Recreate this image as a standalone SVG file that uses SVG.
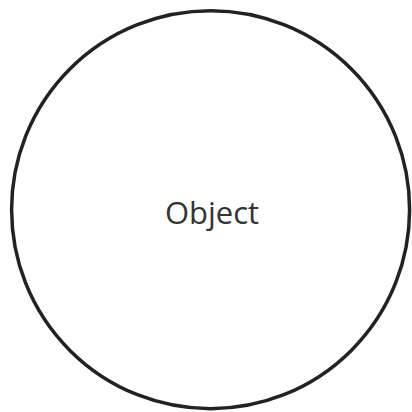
<svg xmlns="http://www.w3.org/2000/svg" width="412" height="412" viewBox="0 0 412 412">
<style>
.node-shape{fill:#ffffff;stroke:#222222;stroke-width:3.5}
.label{font-family:"Open Sans","Noto Sans",sans-serif;font-size:31px;fill:#333333;text-anchor:middle}
</style>
<rect width="412" height="412" fill="#ffffff"/>
<g id="connectors"></g>
<g id="object">
<circle class="node-shape" cx="210.6" cy="209.7" r="199"/>
<text class="label" x="212" y="224">Object</text>
</g>
</svg>
